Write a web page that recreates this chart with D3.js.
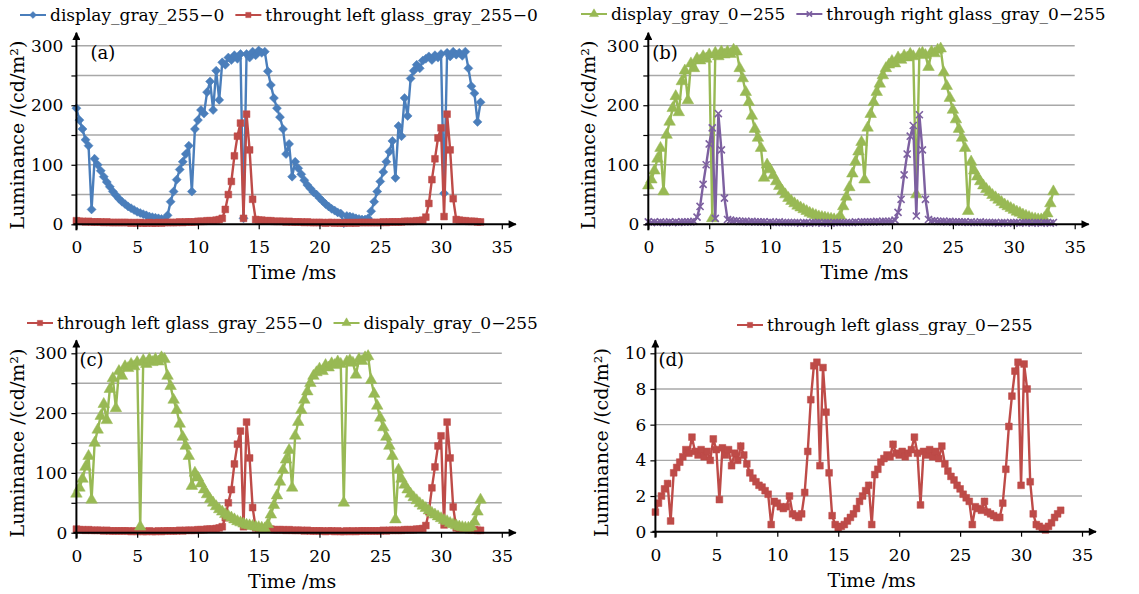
<!DOCTYPE html>
<html>
<head>
<meta charset="utf-8">
<script src="https://cdn.jsdelivr.net/npm/d3@7"></script>
<style>
  body { margin: 0; background: #fff; }
  text { font-family: 'DejaVu Serif', serif; fill: #000; }
</style>
</head>
<body>
<svg id="chart" width="1139" height="594"></svg>
<script>
// sample times (ms), one row = 2 ms
const timeMs = [
  0, 0.25, 0.5, 0.75, 1, 1.25, 1.5, 1.75,
  2, 2.25, 2.5, 2.75, 3, 3.25, 3.5, 3.75,
  4, 4.25, 4.5, 4.75, 5, 5.25, 5.5, 5.75,
  6, 6.25, 6.5, 6.75, 7, 7.25, 7.5, 7.75,
  8, 8.25, 8.5, 8.75, 9, 9.25, 9.5, 9.75,
  10, 10.25, 10.5, 10.75, 11, 11.25, 11.5, 11.75,
  12, 12.25, 12.5, 12.75, 13, 13.25, 13.5, 13.75,
  14, 14.25, 14.5, 14.75, 15, 15.25, 15.5, 15.75,
  16, 16.25, 16.5, 16.75, 17, 17.25, 17.5, 17.75,
  18, 18.25, 18.5, 18.75, 19, 19.25, 19.5, 19.75,
  20, 20.25, 20.5, 20.75, 21, 21.25, 21.5, 21.75,
  22, 22.25, 22.5, 22.75, 23, 23.25, 23.5, 23.75,
  24, 24.25, 24.5, 24.75, 25, 25.25, 25.5, 25.75,
  26, 26.25, 26.5, 26.75, 27, 27.25, 27.5, 27.75,
  28, 28.25, 28.5, 28.75, 29, 29.25, 29.5, 29.75,
  30, 30.25, 30.5, 30.75, 31, 31.25, 31.5, 31.75,
  32, 32.25, 32.5, 32.75, 33, 33.25
];

// luminance, cd/m2
const display255to0 = [
  195, 175, 160, 142, 132, 25, 110, 100,
  90, 80, 71, 63, 55, 49, 43, 38,
  34, 30, 27, 24, 21, 19, 17, 15,
  13, 12, 11, 10, 9, 8, 15, 38,
  55, 75, 92, 105, 118, 132, 55, 160,
  175, 192, 186, 222, 240, 192, 258, 209,
  272, 268, 280, 276, 284, 278, 286, 10,
  286, 280, 290, 284, 292, 288, 290, 257,
  234, 212, 195, 180, 160, 118, 135, 80,
  105, 94, 84, 74, 66, 60, 54, 50,
  44, 39, 34, 30, 26, 23, 20, 18,
  2, 14, 13, 12, 10, 9, 8, 8,
  10, 22, 38, 55, 72, 88, 105, 122,
  140, 78, 165, 148, 212, 182, 245, 258,
  268, 262, 275, 278, 282, 276, 284, 280,
  286, 52, 288, 282, 290, 285, 288, 283,
  290, 262, 232, 220, 172, 205
];

const leftGlass255to0 = [
  6, 5, 5, 4, 5, 4, 4, 4,
  4, 3, 4, 3, 3, 3, 3, 3,
  3, 3, 2, 3, 2, 3, 2, 2,
  3, 2, 2, 3, 2, 3, 3, 3,
  3, 3, 4, 3, 4, 4, 4, 4,
  5, 5, 5, 6, 6, 6, 7, 8,
  10, 25, 50, 72, 115, 148, 170, 10,
  185, 125, 42, 8, 7, 7, 6, 6,
  6, 5, 5, 5, 5, 4, 5, 4,
  4, 4, 4, 3, 4, 3, 3, 3,
  3, 3, 2, 3, 3, 2, 3, 2,
  2, 3, 2, 3, 2, 3, 3, 3,
  3, 3, 3, 3, 3, 4, 3, 4,
  4, 4, 4, 4, 5, 5, 5, 5,
  6, 6, 7, 12, 35, 75, 110, 145,
  162, 13, 185, 125, 43, 8, 7, 6,
  6, 5, 5, 5, 4, 4
];

const display0to255 = [
  65, 75, 90, 110, 128, 55, 150, 172,
  195, 215, 188, 240, 258, 208, 270, 262,
  278, 275, 282, 278, 285, 10, 288, 282,
  290, 285, 290, 286, 293, 290, 262, 245,
  222, 205, 182, 160, 145, 128, 78, 100,
  92, 82, 72, 64, 56, 50, 44, 39,
  35, 31, 28, 25, 22, 19, 17, 15,
  13, 12, 11, 10, 9, 8, 7, 14,
  30, 46, 62, 85, 105, 122, 138, 75,
  162, 185, 205, 222, 236, 250, 262, 268,
  274, 270, 280, 276, 283, 280, 286, 282,
  50, 286, 288, 284, 264, 290, 287, 293,
  295, 255, 232, 212, 192, 176, 160, 145,
  128, 22, 105, 90, 80, 72, 65, 59,
  54, 49, 45, 41, 37, 33, 30, 27,
  24, 21, 19, 16, 14, 12, 10, 9,
  8, 8, 10, 18, 35, 55
];

const rightGlass0to255 = [
  4, 3, 4, 3, 4, 3, 3, 4,
  3, 4, 3, 4, 4, 4, 4, 5,
  12, 30, 67, 100, 135, 162, 10, 186,
  125, 44, 8, 7, 6, 6, 5, 5,
  5, 4, 5, 4, 4, 4, 4, 3,
  4, 3, 3, 4, 3, 3, 3, 3,
  3, 3, 2, 3, 3, 2, 3, 3,
  3, 2, 3, 3, 2, 3, 3, 3,
  3, 3, 3, 3, 4, 3, 4, 4,
  4, 4, 4, 5, 4, 5, 5, 5,
  5, 7, 20, 42, 83, 118, 148, 166,
  14, 184, 125, 42, 8, 6, 6, 5,
  5, 5, 4, 5, 4, 4, 4, 4,
  4, 3, 4, 3, 3, 4, 3, 3,
  3, 3, 3, 2, 3, 3, 2, 3,
  3, 3, 2, 3, 3, 3, 2, 3,
  3, 2, 3, 3, 2, 3
];

const leftGlass0to255 = [
  1.1, 1.6, 2.0, 2.4, 2.7, 0.6, 3.3, 3.6,
  3.9, 4.2, 4.6, 4.4, 5.3, 4.5, 4.3, 4.6,
  4.2, 4.5, 4.0, 5.2, 4.6, 1.8, 4.7, 4.3,
  4.6, 3.7, 4.4, 4.0, 4.8, 4.3, 3.8, 3.3,
  3.0, 2.8, 2.6, 2.5, 2.3, 2.1, 0.4, 1.7,
  1.6, 1.4, 1.3, 1.4, 2.0, 1.0, 0.9, 0.8,
  1.0, 2.2, 4.5, 7.4, 9.3, 9.5, 3.7, 9.2,
  6.7, 3.3, 0.9, 0.4, 0.2, 0.3, 0.4, 0.6,
  0.8, 1.0, 1.3, 1.7, 2.0, 2.3, 2.6, 0.4,
  3.2, 3.5, 3.9, 4.1, 4.3, 4.2, 4.9, 4.4,
  4.3, 4.5, 4.2, 4.4, 4.6, 5.3, 4.4, 1.5,
  4.5, 4.3, 4.6, 4.2, 4.5, 4.1, 4.8, 3.8,
  3.4, 3.1, 2.9, 2.6, 2.4, 2.1, 1.9, 1.7,
  0.4, 1.4, 1.3, 1.2, 1.7, 1.1, 1.0, 0.9,
  0.8, 0.8, 1.6, 3.5, 5.9, 7.6, 9.0, 9.5,
  2.6, 9.4, 8.0, 2.8, 1.0, 0.4, 0.3, 0.2,
  0.1, 0.3, 0.5, 0.8, 1.0, 1.2
];

const xTicks = [0, 5, 10, 15, 20, 25, 30, 35];
const yGrid300 = [0, 50, 100, 150, 200, 250, 300];
const yLabels300 = [0, 100, 200, 300];
const yGrid10 = [0, 2, 4, 6, 8, 10];

const STYLE = {
  blue: { color: '#4a7ebb', symbol: d3.symbolDiamond2, size: 52, fill: true },
  red: { color: '#be4b48', symbol: d3.symbolSquare, size: 46, fill: true },
  green: { color: '#98b954', symbol: d3.symbolTriangle, size: 58, fill: true },
  purple: { color: '#7d60a0', symbol: d3.symbolTimes, size: 34, fill: false },
};

const panels = [
  {
    tag: '(a)', left: 76.4, right: 501.8, top: 45.7, bottom: 224.3, yMax: 300,
    grid: yGrid300, labels: yLabels300, labelPad: 8, tagDx: 14, titleX: 17,
    legendX: 20, legendY: 15,
    series: [
      { values: display255to0, style: 'blue', label: 'display_gray_255\u22120' },
      { values: leftGlass255to0, style: 'red', label: 'throught left glass_gray_255\u22120' },
    ],
  },
  {
    tag: '(b)', left: 648.3, right: 1074.7, top: 45.7, bottom: 224.3, yMax: 300,
    grid: yGrid300, labels: yLabels300, labelPad: 4, tagDx: 4, titleX: 588,
    legendX: 581, legendY: 14,
    series: [
      { values: display0to255, style: 'green', label: 'display_gray_0\u2212255' },
      { values: rightGlass0to255, style: 'purple', label: 'through right glass_gray_0\u2212255' },
    ],
  },
  {
    tag: '(c)', left: 76.4, right: 501.8, top: 353.3, bottom: 532.7, yMax: 300,
    grid: yGrid300, labels: yLabels300, labelPad: 4, tagDx: 3, titleX: 17,
    legendX: 27, legendY: 323,
    series: [
      { values: leftGlass255to0, style: 'red', label: 'through left glass_gray_255\u22120' },
      { values: display0to255, style: 'green', label: 'dispaly_gray_0\u2212255' },
    ],
  },
  {
    tag: '(d)', left: 655.4, right: 1082, top: 353.3, bottom: 531.7, yMax: 10,
    grid: yGrid10, labels: yGrid10, labelPad: 4, tagDx: 3, titleX: 601,
    legendX: 737, legendY: 325,
    series: [
      { values: leftGlass0to255, style: 'red', label: 'through left glass_gray_0\u2212255' },
    ],
  },
];

const svg = d3.select('#chart');

svg.append('defs')
  .append('marker')
  .attr('id', 'arrow')
  .attr('viewBox', '0 0 10 10')
  .attr('refX', 9)
  .attr('refY', 5)
  .attr('markerWidth', 9)
  .attr('markerHeight', 8)
  .attr('markerUnits', 'userSpaceOnUse')
  .attr('orient', 'auto')
  .append('path')
  .attr('d', 'M0,0L10,5L0,10z')
  .attr('fill', '#000');

const drawMarkers = (g, points, st, scale = 1) => {
  g.selectAll(null)
    .data(points)
    .join('path')
    .attr('transform', (d) => `translate(${d[0]},${d[1]})`)
    .attr('d', d3.symbol(st.symbol, st.size * scale))
    .attr('fill', st.fill ? st.color : 'none')
    .attr('stroke', st.color)
    .attr('stroke-width', st.fill ? 0.5 : 1.6);
};

const drawPanel = (p) => {
  const g = svg.append('g');
  const x = d3.scaleLinear().domain([0, 35]).range([p.left, p.right]);
  const y = d3.scaleLinear().domain([0, p.yMax]).range([p.bottom, p.top]);

  // horizontal grid
  g.append('g')
    .selectAll('line')
    .data(p.grid.filter((v) => v > 0))
    .join('line')
    .attr('x1', p.left)
    .attr('x2', p.right)
    .attr('y1', (d) => y(d))
    .attr('y2', (d) => y(d))
    .attr('stroke', '#a8a8a8')
    .attr('stroke-width', 1.4);

  // data
  p.series.forEach((s) => {
    const st = STYLE[s.style];
    const pts = timeMs.map((t, i) => [x(t), y(s.values[i])]);
    const sg = g.append('g');
    sg.append('path')
      .attr('d', d3.line()(pts))
      .attr('fill', 'none')
      .attr('stroke', st.color)
      .attr('stroke-width', 2.4);
    drawMarkers(sg, pts, st);
  });

  // axes
  const xAxis = g.append('g')
    .attr('transform', `translate(0,${p.bottom})`)
    .call(d3.axisBottom(x).tickValues(xTicks).tickSize(5).tickPadding(12).tickSizeOuter(0));
  xAxis.select('.domain').remove();

  const yAxis = g.append('g')
    .attr('transform', `translate(${p.left},0)`)
    .call(
      d3.axisLeft(y)
        .tickValues(p.grid)
        .tickSize(5)
        .tickPadding(p.labelPad)
        .tickSizeOuter(0)
        .tickFormat((d) => (p.labels.includes(d) ? d : ''))
    );
  yAxis.select('.domain').remove();

  [xAxis, yAxis].forEach((a) => {
    a.selectAll('line').attr('stroke', '#000').attr('stroke-width', 1.2);
    a.selectAll('text').style('font-size', '17px').style('font-family', "'DejaVu Serif', serif").attr('fill', '#000');
  });

  g.append('line')
    .attr('x1', p.left - 3)
    .attr('x2', p.right + 14)
    .attr('y1', p.bottom)
    .attr('y2', p.bottom)
    .attr('stroke', '#000')
    .attr('stroke-width', 2)
    .attr('marker-end', 'url(#arrow)');
  g.append('line')
    .attr('x1', p.left)
    .attr('x2', p.left)
    .attr('y1', p.bottom + 6)
    .attr('y2', p.top - 13)
    .attr('stroke', '#000')
    .attr('stroke-width', 2)
    .attr('marker-end', 'url(#arrow)');

  // titles
  g.append('text')
    .attr('x', (p.left + p.right) / 2 + 3)
    .attr('y', p.bottom + 55)
    .attr('text-anchor', 'middle')
    .style('font-size', '19px')
    .text('Time /ms');
  g.append('text')
    .attr('transform', `translate(${p.titleX},${(p.top + p.bottom) / 2}) rotate(-90)`)
    .attr('text-anchor', 'middle')
    .attr('dominant-baseline', 'central')
    .style('font-size', '19px')
    .text('Luminance /(cd/m\u00b2)');
  g.append('text')
    .attr('x', p.left + p.tagDx)
    .attr('y', p.top + 13)
    .style('font-size', '18px')
    .text(p.tag);

  // legend
  let lx = p.legendX;
  p.series.forEach((s) => {
    const st = STYLE[s.style];
    const lg = g.append('g');
    lg.append('line')
      .attr('x1', lx)
      .attr('x2', lx + 26)
      .attr('y1', p.legendY)
      .attr('y2', p.legendY)
      .attr('stroke', st.color)
      .attr('stroke-width', 2);
    drawMarkers(lg, [[lx + 13, p.legendY]], st, 0.6);
    const txt = lg.append('text')
      .attr('x', lx + 30)
      .attr('y', p.legendY)
      .attr('dominant-baseline', 'central')
      .style('font-size', '17px')
      .text(s.label);
    lx += 30 + txt.node().getComputedTextLength() + 11;
  });
};

panels.forEach(drawPanel);
</script>
</body>
</html>
